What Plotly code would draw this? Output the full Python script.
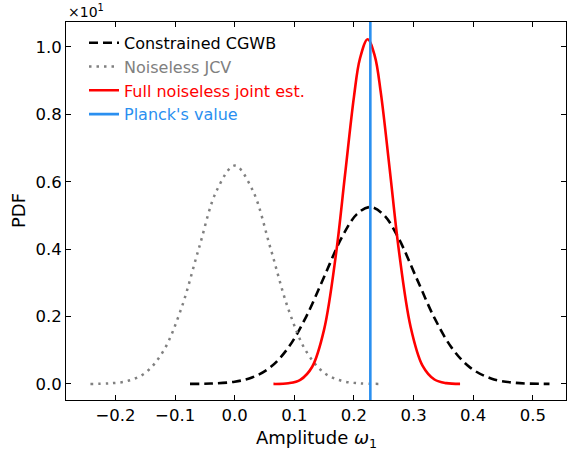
import plotly.graph_objects as go

# Values (y in units of 10^1)
cgwb_x = [-0.075, -0.04, 0.0, 0.03, 0.06, 0.09, 0.12, 0.15, 0.18, 0.205, 0.227,
          0.25, 0.275, 0.305, 0.335, 0.365, 0.395, 0.43, 0.47, 0.528]
cgwb_y = [0.0002, 0.0013, 0.0068, 0.0199, 0.050, 0.108, 0.200, 0.318, 0.436, 0.504, 0.525,
          0.502, 0.432, 0.314, 0.196, 0.105, 0.0486, 0.0163, 0.0036, 0.0003]

jcv_x = [-0.242, -0.21, -0.18, -0.15, -0.12, -0.09, -0.06, -0.03, 0.0,
         0.03, 0.06, 0.09, 0.12, 0.15, 0.18, 0.21, 0.244]
jcv_y = [0.0003, 0.0019, 0.0089, 0.0331, 0.0966, 0.222, 0.403, 0.575, 0.648,
         0.575, 0.403, 0.222, 0.0966, 0.0331, 0.0089, 0.0019, 0.0003]

joint_x = [0.065, 0.09, 0.11, 0.13, 0.15, 0.17, 0.185, 0.20, 0.21, 0.223,
           0.235, 0.245, 0.26, 0.275, 0.295, 0.315, 0.335, 0.355, 0.378]
joint_y = [0.0002, 0.0022, 0.0123, 0.0512, 0.162, 0.387, 0.620, 0.852, 0.965, 1.023,
           0.973, 0.865, 0.637, 0.401, 0.170, 0.0545, 0.0133, 0.0025, 0.0002]

planck_value = 0.2275

x_ticks = [-0.2, -0.1, 0.0, 0.1, 0.2, 0.3, 0.4, 0.5]
x_labels = ["\u22120.2", "\u22120.1", "0.0", "0.1", "0.2", "0.3", "0.4", "0.5"]
y_ticks = [0.0, 0.2, 0.4, 0.6, 0.8, 1.0]
y_labels = ["0.0", "0.2", "0.4", "0.6", "0.8", "1.0"]

x_range = [-0.283, 0.5557]
y_range = [-0.0475, 1.074]

font = "DejaVu Sans, sans-serif"

fig = go.Figure()
fig.add_trace(go.Scatter(x=cgwb_x, y=cgwb_y, mode="lines",
                         line=dict(color="black", width=2.6, dash="9px,5px", shape="spline", smoothing=1.0),
                         name="Constrained CGWB"))
fig.add_trace(go.Scatter(x=jcv_x, y=jcv_y, mode="lines",
                         line=dict(color="#808080", width=2.5, dash="2.5px,5px", shape="spline", smoothing=1.0),
                         name='<span style="color:#808080">Noiseless JCV</span>'))
fig.add_trace(go.Scatter(x=joint_x, y=joint_y, mode="lines",
                         line=dict(color="red", width=2.6, shape="spline", smoothing=1.0),
                         name='<span style="color:red">Full noiseless joint est.</span>'))
fig.add_trace(go.Scatter(x=[planck_value, planck_value], y=[y_range[0] - 0.1, y_range[1] + 0.1],
                         mode="lines", line=dict(color="#2a8ff0", width=2.6),
                         name='<span style="color:#2a8ff0">Planck\'s value</span>'))

axis_common = dict(showline=True, linecolor="black", linewidth=1, mirror="ticks",
                   ticks="inside", ticklen=5, tickwidth=1, tickcolor="black",
                   showgrid=False, zeroline=False, automargin=False,
                   tickfont=dict(family=font, size=16.5, color="black"))

fig.update_xaxes(range=x_range, tickvals=x_ticks, ticktext=x_labels, **axis_common)
fig.update_yaxes(range=y_range, tickvals=y_ticks, ticktext=y_labels, **axis_common)

fig.add_annotation(text="\u00d710<sup>1</sup>", xref="paper", yref="paper", x=0.0, y=1.0,
                   xanchor="left", yanchor="bottom", showarrow=False, yshift=0,
                   font=dict(family=font, size=14, color="black"))
fig.add_annotation(text="Amplitude <i>\u03c9</i><sub>1</sub>", xref="paper", yref="paper",
                   x=0.5, y=0, yshift=-25, xanchor="center", yanchor="top", showarrow=False,
                   font=dict(family=font, size=18, color="black"))
fig.add_annotation(text="PDF", xref="paper", yref="paper", x=0, y=0.5, xshift=-48,
                   xanchor="center", yanchor="middle", textangle=-90, showarrow=False,
                   font=dict(family=font, size=18, color="black"))

fig.update_layout(
    width=568, height=450,
    margin=dict(l=66, r=2, t=22, b=50),
    plot_bgcolor="white", paper_bgcolor="white",
    font=dict(family=font, size=15, color="black"),
    legend=dict(x=0.036, y=0.99, xanchor="left", yanchor="top",
                bgcolor="rgba(0,0,0,0)", borderwidth=0,
                font=dict(family=font, size=16), tracegroupgap=0, itemwidth=30),
    showlegend=True,
)

fig.write_html("out.html", config={"displayModeBar": False},
               post_script="document.body.style.margin='0';document.body.style.overflow='hidden';")
